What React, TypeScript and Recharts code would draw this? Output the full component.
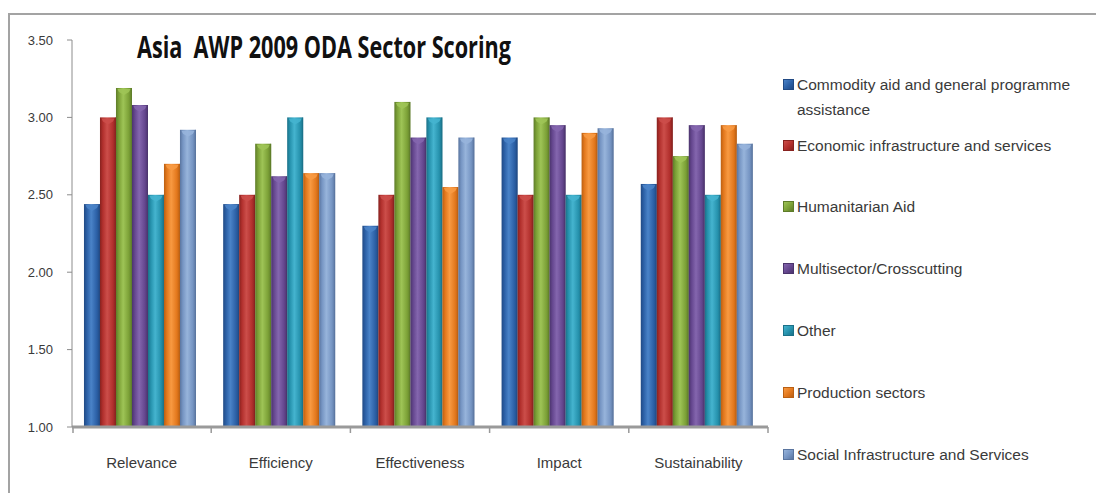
import React from "react"
import { BarChart, Bar, XAxis, YAxis } from "recharts"

const categories = ["Relevance", "Efficiency", "Effectiveness", "Impact", "Sustainability"]

const seriesNames = [
  "Commodity aid and general programme assistance",
  "Economic infrastructure and services",
  "Humanitarian Aid",
  "Multisector/Crosscutting",
  "Other",
  "Production sectors",
  "Social Infrastructure and Services",
]

const commodity = [2.44, 2.44, 2.3, 2.87, 2.57]
const economic = [3.0, 2.5, 2.5, 2.5, 3.0]
const humanitarian = [3.19, 2.83, 3.1, 3.0, 2.75]
const multisector = [3.08, 2.62, 2.87, 2.95, 2.95]
const other = [2.5, 3.0, 3.0, 2.5, 2.5]
const production = [2.7, 2.64, 2.55, 2.9, 2.95]
const social = [2.92, 2.64, 2.87, 2.93, 2.83]

const yTicks = [1, 1.5, 2, 2.5, 3, 3.5]

const title = "Asia  AWP 2009 ODA Sector Scoring"

// base / light / dark per series, office 2007 bevel look
const palette = [
  { id: "blue", base: "#2c60a6", light: "#4a83c8", dark: "#214a84" },
  { id: "red", base: "#b2302d", light: "#cc4e4a", dark: "#87221f" },
  { id: "green", base: "#7ca137", light: "#9ec456", dark: "#5e7c29" },
  { id: "purple", base: "#65478f", light: "#8466ae", dark: "#4b346c" },
  { id: "cyan", base: "#2692ad", light: "#45b4cf", dark: "#1b7188" },
  { id: "orange", base: "#e3781d", light: "#f89a42", dark: "#ba5f12" },
  { id: "lblue", base: "#7695c3", light: "#97b4db", dark: "#5a759f" },
]

const seriesValues = [commodity, economic, humanitarian, multisector, other, production, social]

const rows = categories.map((c, i) => {
  const row: Record<string, any> = { category: c }
  seriesValues.forEach((vals, s) => {
    row["s" + s] = vals[i]
  })
  return row
})

const FONT = "'Liberation Sans', Arial, sans-serif"
const PLOT_W = 696

const BevelBar = (props: any) => {
  const { x, y, width, height, index2 } = props
  if (!width || !height) return null
  const p = palette[index2]
  const w = width
  return (
    <g>
      <rect x={x} y={y} width={w} height={height} fill={`url(#g-${p.id})`} />
      <path
        d={`M${x + 1.5} ${y + 1} L${x + w - 1.5} ${y + 1} L${x + w - 3} ${y + 4} L${x + w / 2} ${y + 7} L${x + 3} ${y + 4} Z`}
        fill={p.light}
        opacity={0.9}
      />
      <rect x={x + w - 1} y={y} width={1} height={height} fill={p.dark} opacity={0.6} />
    </g>
  )
}

const CategoryTick = (props: any) => {
  const { x, y, payload, index } = props
  const half = PLOT_W / categories.length / 2
  return (
    <g>
      {index === 0 && <line x1={x - half + 1} x2={x - half + 1} y1={y} y2={y + 6} stroke="#999" strokeWidth={1.5} />}
      <line x1={x + half} x2={x + half} y1={y} y2={y + 6} stroke="#999" strokeWidth={1.5} />
      <text x={x} y={y + 41} textAnchor="middle" fontSize={15} fontFamily={FONT} fill="#3a3a3a">
        {payload.value}
      </text>
    </g>
  )
}

export default function App() {
  return (
    <div style={{ position: "fixed", left: 0, top: 0, width: 1096, height: 493, overflow: "hidden", background: "#fff" }}>
      <div
        style={{
          position: "absolute",
          left: 8,
          top: 13,
          width: 1200,
          height: 600,
          borderLeft: "2px solid #a3a3a3",
          borderTop: "2px solid #a3a3a3",
        }}
      />
      <svg width={0} height={0} style={{ position: "absolute" }}>
        <defs>
          {palette.map((p) => (
            <linearGradient key={p.id} id={`g-${p.id}`} x1="0" y1="0" x2="1" y2="0">
              <stop offset="0" stopColor={p.dark} />
              <stop offset="0.18" stopColor={p.base} />
              <stop offset="0.45" stopColor={p.light} />
              <stop offset="0.8" stopColor={p.base} />
              <stop offset="1" stopColor={p.dark} />
            </linearGradient>
          ))}
        </defs>
      </svg>
      <div style={{ position: "absolute", left: 0, top: 0 }}>
        <BarChart
          width={1096}
          height={493}
          data={rows}
          margin={{ top: 40, right: 328, bottom: 26, left: 12 }}
          barCategoryGap="8.6%"
          barGap={0}
        >
          <XAxis
            dataKey="category"
            height={40}
            interval={0}
            tickLine={false}
            tickSize={0}
            tickMargin={0}
            tick={<CategoryTick />}
            axisLine={{ stroke: "#9a9a9a", strokeWidth: 3 }}
          />
          <YAxis
            width={60}
            domain={[1, 3.5]}
            ticks={yTicks}
            interval={0}
            tickFormatter={(v: number) => v.toFixed(2)}
            tickSize={5}
            tickMargin={14}
            axisLine={{ stroke: "#8c8c8c" }}
            tickLine={{ stroke: "#8c8c8c" }}
            tick={{ fontSize: 13, fontFamily: FONT, fill: "#3a3a3a" }}
          />
          {seriesNames.map((name, s) => (
            <Bar
              key={name}
              dataKey={"s" + s}
              name={name}
              fill={palette[s].base}
              isAnimationActive={false}
              shape={(p: any) => <BevelBar {...p} index2={s} />}
            />
          ))}
        </BarChart>
      </div>
      <svg width={1096} height={80} style={{ position: "absolute", left: 0, top: 0 }}>
        <text
          x={137}
          y={58}
          fontSize={31}
          fontWeight="bold"
          fontFamily="'Open Sans', sans-serif"
          fill="#111"
          textLength={374}
          lengthAdjust="spacingAndGlyphs"
          style={{ whiteSpace: "pre" }}
        >
          {title}
        </text>
      </svg>
      {seriesNames.map((name, s) => {
        const centerY = s === 0 ? 84 : 145 + (s - 1) * 61.8
        return (
          <div
            key={name}
            style={{
              position: "absolute",
              left: 783,
              top: centerY - 12.5,
              width: 305,
              display: "flex",
              alignItems: "flex-start",
              fontFamily: FONT,
              fontSize: 15.5,
              lineHeight: "25px",
              color: "#3a3a3a",
            }}
          >
            <div
              style={{
                width: 11,
                height: 11,
                marginTop: 7,
                marginRight: 3,
                flex: "none",
                background: `linear-gradient(135deg, ${palette[s].light}, ${palette[s].base} 55%, ${palette[s].dark})`,
                border: `1px solid ${palette[s].dark}`,
                boxSizing: "border-box",
              }}
            />
            <div style={{ width: 285 }}>{name}</div>
          </div>
        )
      })}
    </div>
  )
}
